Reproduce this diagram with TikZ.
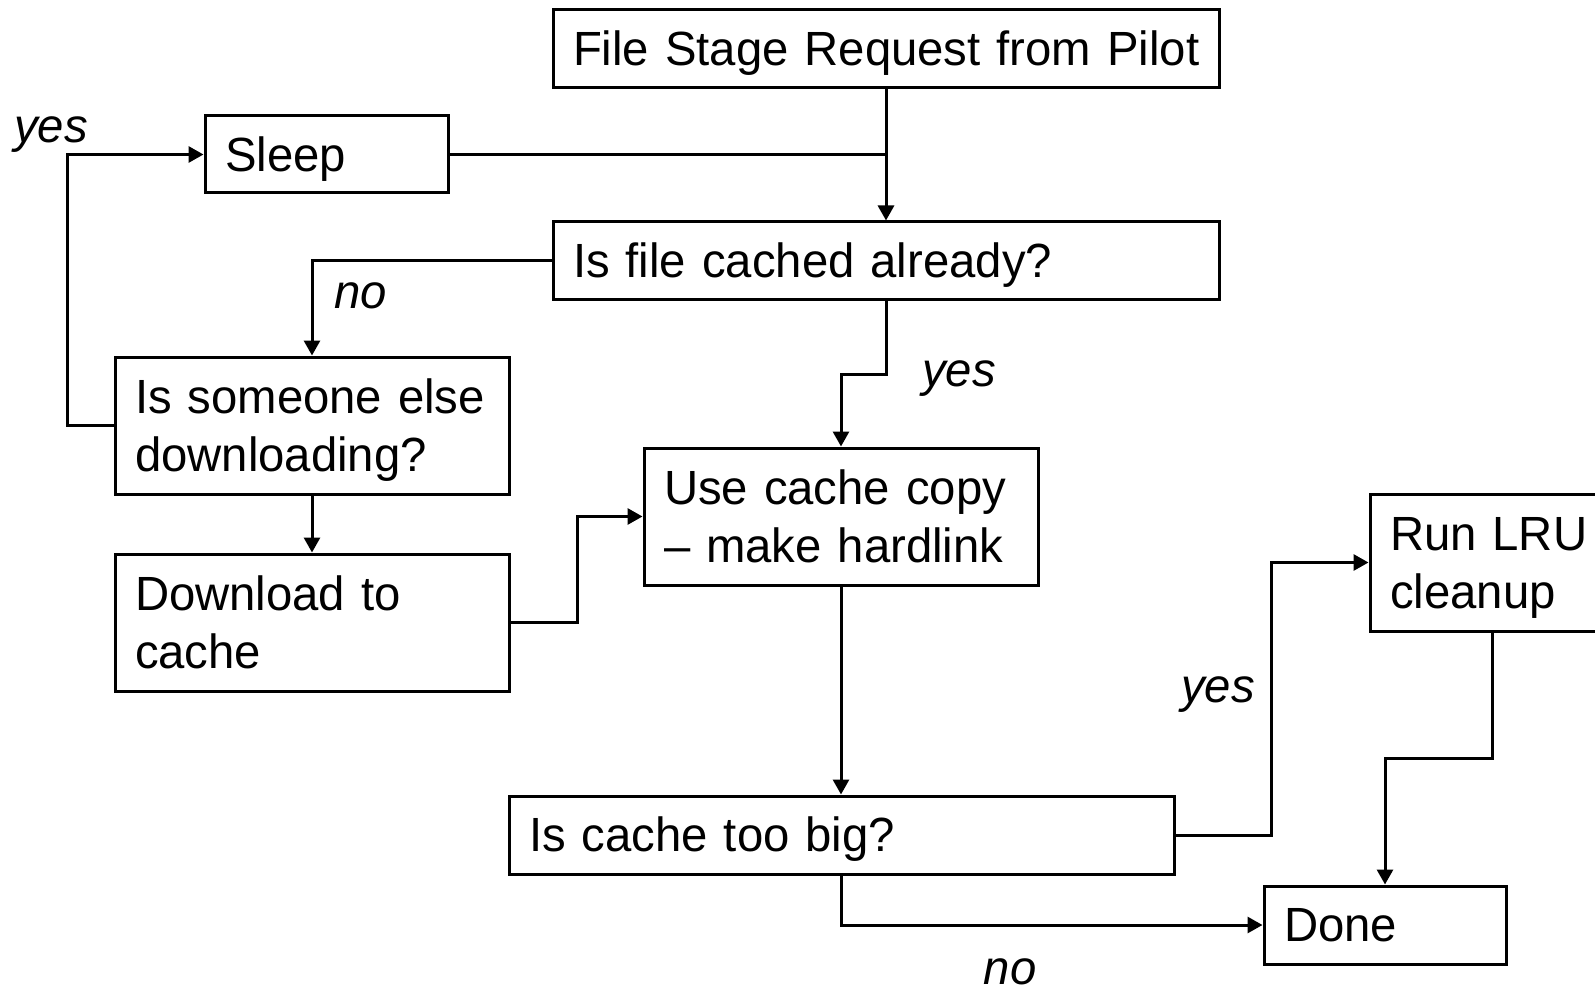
\documentclass[tikz,border=0pt]{standalone}
\usepackage{fontspec}
\setmainfont{Liberation Sans}[FakeStretch=0.985]
\usetikzlibrary{arrows.meta}
\begin{document}
\begin{tikzpicture}[x=1pt,y=-1pt,
  box/.style={draw,line width=3pt,rectangle,inner xsep=20pt,inner ysep=0pt,align=left,
    text height=43.4pt,text depth=10.2pt,
    font=\fontsize{48}{58}\selectfont},
  box2/.style={box,text depth=68.2pt},
  lbl/.style={font=\fontsize{48}{58}\selectfont\itshape,inner sep=0pt},
  conn/.style={line width=3pt},
  arr/.style={conn,-{Triangle[length=15pt,width=16pt]}}]
\useasboundingbox (0,0) rectangle (1595,992);
\clip (0,0) rectangle (1595,992);
\fill[white] (0,0) rectangle (1595,992);
% boxes: center, size
\node[box,minimum width=666pt,minimum height=78pt,text width=626pt] (fs) at (886,49) {\mbox{File Stage Request from Pilot}};
\node[box,minimum width=243pt,minimum height=77pt,text width=203pt] (sleep) at (326.5,154.5) {\mbox{Sleep}};
\node[box,minimum width=666pt,minimum height=77pt,text width=626pt] (cached) at (886,260.5) {\mbox{Is file cached already?}};
\node[box2,minimum width=394pt,minimum height=137pt,text width=354pt] (someone) at (312,425.5) {\mbox{Is someone else}\\\mbox{downloading?}};
\node[box2,minimum width=394pt,minimum height=137pt,text width=354pt] (download) at (312,622.5) {\mbox{Download to}\\\mbox{cache}};
\node[box2,minimum width=394pt,minimum height=137pt,text width=354pt] (use) at (841,516.5) {\mbox{Use cache copy}\\\mbox{– make hardlink}};
\node[box2,minimum width=244pt,minimum height=137pt,text width=204pt] (lru) at (1492,562.5) {\mbox{Run LRU}\\\mbox{cleanup}};
\node[box,minimum width=665pt,minimum height=78pt,text width=625pt] (big) at (841.5,835) {\mbox{Is cache too big?}};
\node[box,minimum width=242pt,minimum height=78pt,text width=202pt] (done) at (1385,925) {\mbox{Done}};
% junction coordinates
\coordinate (j1) at (886,374);
\coordinate (j2) at (67,425.5);
\coordinate (j3) at (577,622.5);
\coordinate (j4) at (1271,835);
\coordinate (j5) at (1492,758);
\coordinate (j6) at (841,925);
% connectors
\draw[arr] (fs.south) -- (cached.north);
\draw[conn] (sleep.east) -- (sleep.east -| fs.south);
\draw[arr] (cached.west) -| (someone.north);
\draw[arr] (cached.south) -- (j1) -| (use.north);
\draw[arr] (someone.west) -- (j2) |- (sleep.west);
\draw[arr] (someone.south) -- (download.north);
\draw[arr] (download.east) -- (j3) |- (use.west);
\draw[arr] (use.south) -- (use.south |- big.north);
\draw[arr] (big.east) -- (j4) |- (lru.west);
\draw[arr] (lru.south) -- (j5) -| (done.north);
\draw[arr] (big.south -| use.south) -- (j6) -- (done.west);
% labels
\node[lbl] (l1) at (51,135) {yes};
\node[lbl] (l2) at (361,296) {no};
\node[lbl] (l3) at (959,379) {yes};
\node[lbl] (l4) at (1218,695) {yes};
\node[lbl] (l5) at (1010,972) {no};
\end{tikzpicture}
\end{document}
